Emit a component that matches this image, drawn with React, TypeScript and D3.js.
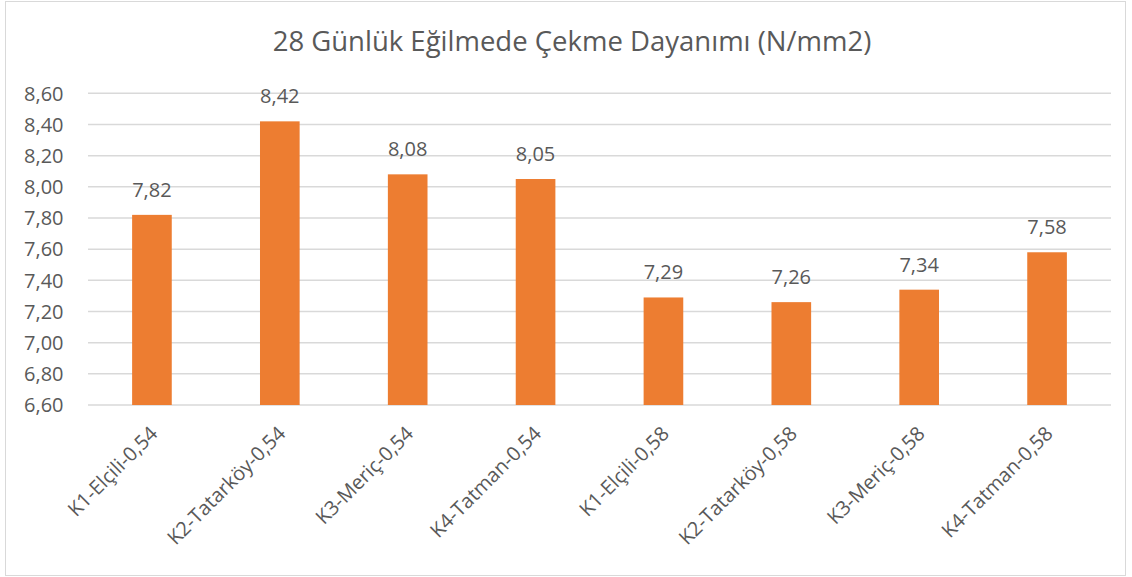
import React from "react";
import * as d3 from "d3";

const categories = [
  "K1-Elçili-0,54",
  "K2-Tatarköy-0,54",
  "K3-Meriç-0,54",
  "K4-Tatman-0,54",
  "K1-Elçili-0,58",
  "K2-Tatarköy-0,58",
  "K3-Meriç-0,58",
  "K4-Tatman-0,58",
];
const values = [7.82, 8.42, 8.08, 8.05, 7.29, 7.26, 7.34, 7.58];
const yTicks = [6.6, 6.8, 7.0, 7.2, 7.4, 7.6, 7.8, 8.0, 8.2, 8.4, 8.6];
const title = "28 Günlük Eğilmede Çekme Dayanımı (N/mm2)";

const W = 1132;
const H = 577;
const plot = { left: 88, right: 1111, top: 93.3, bottom: 405 };
const font = "'Open Sans', 'Liberation Sans', sans-serif";
const textColor = "#595959";

const fmt = (v: number) => v.toFixed(2).replace(".", ",");

export default function App() {
  const x = d3
    .scaleBand<string>()
    .domain(categories)
    .range([plot.left, plot.right])
    .paddingInner(0.69)
    .paddingOuter(0.345);
  const y = d3.scaleLinear().domain([6.6, 8.6]).range([plot.bottom, plot.top]);

  return (
    <svg
      width={W}
      height={H}
      style={{ position: "absolute", left: 0, top: 0, background: "#fff" }}
      fontFamily={font}
    >
      <rect x={5.5} y={1.5} width={1120} height={574} fill="#fff" stroke="#d9d9d9" strokeWidth={1} />
      <text x={572} y={51} textAnchor="middle" fontSize={27.5} fill={textColor}>
        {title}
      </text>
      {yTicks.map((t) => (
        <g key={t}>
          <line
            x1={plot.left}
            x2={plot.right}
            y1={y(t)}
            y2={y(t)}
            stroke="#d9d9d9"
            strokeWidth={1.5}
          />
          <text
            x={63.5}
            y={y(t)}
            dy="0.36em"
            textAnchor="end"
            fontSize={20}
            fill={textColor}
          >
            {fmt(t)}
          </text>
        </g>
      ))}
      {categories.map((c, i) => {
        const bx = x(c)!;
        const bw = x.bandwidth();
        const cx = bx + bw / 2;
        return (
          <g key={c}>
            <rect
              x={bx}
              y={y(values[i])}
              width={bw}
              height={y(6.6) - y(values[i])}
              fill="#ED7D31"
            />
            <text
              x={cx}
              y={y(values[i]) - 18}
              textAnchor="middle"
              fontSize={20}
              fill={textColor}
            >
              {fmt(values[i])}
            </text>
            <text
              transform={`translate(${cx + 2},${plot.bottom + 25}) rotate(-45)`}
              textAnchor="end"
              dy="0.35em"
              fontSize={20}
              fill={textColor}
            >
              {c}
            </text>
          </g>
        );
      })}
    </svg>
  );
}
